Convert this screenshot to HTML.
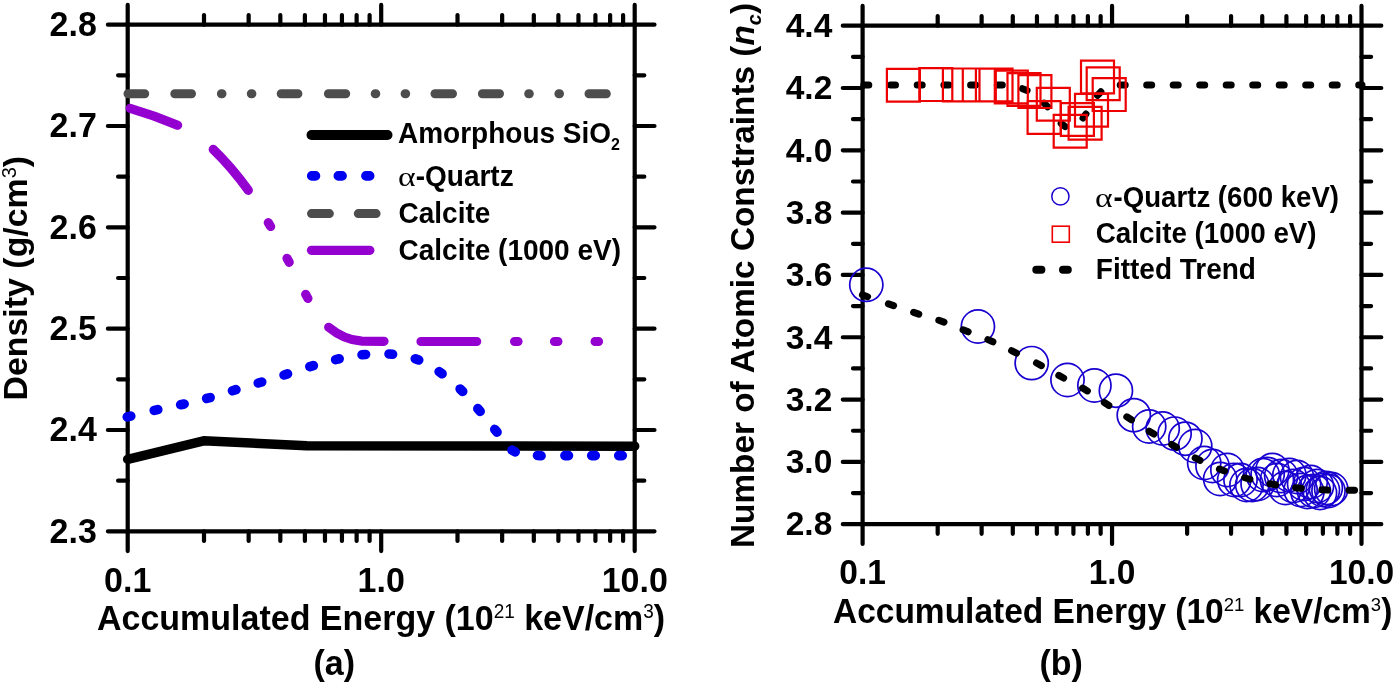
<!DOCTYPE html><html><head><meta charset="utf-8"><style>html,body{margin:0;padding:0;background:#fff;width:1395px;height:684px;overflow:hidden}svg{display:block;will-change:transform}text{font-family:"Liberation Sans", sans-serif;font-weight:bold}</style></head><body>
<svg width="1395" height="684" viewBox="0 0 1395 684">
<path d="M127.7,531.3H634.7V24.7H127.7Z" fill="none" stroke="#000" stroke-width="4.2" stroke-linejoin="miter"/>
<path d="M127.70,531.3v19.8M127.70,24.7v-19.8M204.01,531.3v9.6M204.01,24.7v-9.6M248.65,531.3v9.6M248.65,24.7v-9.6M280.32,531.3v9.6M280.32,24.7v-9.6M304.89,531.3v9.6M304.89,24.7v-9.6M324.96,531.3v9.6M324.96,24.7v-9.6M341.93,531.3v9.6M341.93,24.7v-9.6M356.63,531.3v9.6M356.63,24.7v-9.6M369.60,531.3v9.6M369.60,24.7v-9.6M381.20,531.3v19.8M381.20,24.7v-19.8M457.51,531.3v9.6M457.51,24.7v-9.6M502.15,531.3v9.6M502.15,24.7v-9.6M533.82,531.3v9.6M533.82,24.7v-9.6M558.39,531.3v9.6M558.39,24.7v-9.6M578.46,531.3v9.6M578.46,24.7v-9.6M595.43,531.3v9.6M595.43,24.7v-9.6M610.13,531.3v9.6M610.13,24.7v-9.6M623.10,531.3v9.6M623.10,24.7v-9.6M634.70,531.3v19.8M634.70,24.7v-19.8M127.7,531.30h-19.8M634.7,531.30h19.8M127.7,429.98h-19.8M634.7,429.98h19.8M127.7,328.66h-19.8M634.7,328.66h19.8M127.7,227.34h-19.8M634.7,227.34h19.8M127.7,126.02h-19.8M634.7,126.02h19.8M127.7,24.70h-19.8M634.7,24.70h19.8M127.7,480.64h-9.6M634.7,480.64h9.6M127.7,379.32h-9.6M634.7,379.32h9.6M127.7,278.00h-9.6M634.7,278.00h9.6M127.7,176.68h-9.6M634.7,176.68h9.6M127.7,75.36h-9.6M634.7,75.36h9.6" fill="none" stroke="#000" stroke-width="4.2" stroke-linecap="round"/>
<text transform="translate(96.8,542.7) scale(1,1.04)" font-size="34" text-anchor="end">2.3</text>
<text transform="translate(96.8,441.4) scale(1,1.04)" font-size="34" text-anchor="end">2.4</text>
<text transform="translate(96.8,340.1) scale(1,1.04)" font-size="34" text-anchor="end">2.5</text>
<text transform="translate(96.8,238.7) scale(1,1.04)" font-size="34" text-anchor="end">2.6</text>
<text transform="translate(96.8,137.4) scale(1,1.04)" font-size="34" text-anchor="end">2.7</text>
<text transform="translate(96.8,36.1) scale(1,1.04)" font-size="34" text-anchor="end">2.8</text>
<text transform="translate(127.7,592) scale(1,1.04)" font-size="34" text-anchor="middle">0.1</text>
<text transform="translate(381.2,592) scale(1,1.04)" font-size="34" text-anchor="middle">1.0</text>
<text transform="translate(634.7,592) scale(1,1.04)" font-size="34" text-anchor="middle">10.0</text>
<text transform="translate(97,630.2) scale(1,1.04)" font-size="34">Accumulated Energy (10<tspan font-size="19" font-weight="normal" dy="-11.5">21</tspan><tspan dy="11.5"> keV/cm</tspan><tspan font-size="19" font-weight="normal" dy="-11.5">3</tspan><tspan dy="11.5">)</tspan></text>
<text transform="translate(313.5,674.5) scale(1,1.03)" font-size="34">(a)</text>
<text transform="translate(27.3,400.5) rotate(-90) scale(1,1.0)" font-size="33.9">Density (g/cm<tspan font-size="20" font-weight="normal" dy="-11">3</tspan><tspan dy="11">)</tspan></text>
<path d="M311.5,135H387.5" stroke="#000" stroke-width="10" stroke-linecap="round"/>
<path d="M311.7,175.9h3.8M338.3,175.9h3.8M365.9,175.9h3.8" stroke="#0000f0" stroke-width="9.6" stroke-linecap="round"/>
<path d="M311.5,213.6H329.4M358.3,213.6H376.1" stroke="#4d4d4d" stroke-width="9" stroke-linecap="round"/>
<path d="M311.5,250.3H369.8" stroke="#9400d0" stroke-width="9.3" stroke-linecap="round"/>
<text transform="translate(398,143) scale(1,1.06)" font-size="28">Amorphous SiO<tspan font-size="16" dy="7">2</tspan></text>
<text transform="translate(397.9,185.8) scale(1.2,1.0)" font-size="28" style="font-family:&quot;Liberation Serif&quot;, serif;font-weight:normal">α</text>
<text transform="translate(415.7,185.6) scale(1,1.06)" font-size="28">-Quartz</text>
<text transform="translate(398.5,223) scale(1,1.06)" font-size="28">Calcite</text>
<text transform="translate(398.5,260) scale(1,1.06)" font-size="28">Calcite (1000 eV)</text>
<path d="M862.6,524.2H1361.5V25.7H862.6Z" fill="none" stroke="#000" stroke-width="4.2" stroke-linejoin="miter"/>
<path d="M862.60,524.2v19.8M862.60,25.7v-19.8M937.69,524.2v9.6M937.69,25.7v-9.6M981.62,524.2v9.6M981.62,25.7v-9.6M1012.78,524.2v9.6M1012.78,25.7v-9.6M1036.96,524.2v9.6M1036.96,25.7v-9.6M1056.71,524.2v9.6M1056.71,25.7v-9.6M1073.41,524.2v9.6M1073.41,25.7v-9.6M1087.88,524.2v9.6M1087.88,25.7v-9.6M1100.64,524.2v9.6M1100.64,25.7v-9.6M1112.05,524.2v19.8M1112.05,25.7v-19.8M1187.14,524.2v9.6M1187.14,25.7v-9.6M1231.07,524.2v9.6M1231.07,25.7v-9.6M1262.23,524.2v9.6M1262.23,25.7v-9.6M1286.41,524.2v9.6M1286.41,25.7v-9.6M1306.16,524.2v9.6M1306.16,25.7v-9.6M1322.86,524.2v9.6M1322.86,25.7v-9.6M1337.33,524.2v9.6M1337.33,25.7v-9.6M1350.09,524.2v9.6M1350.09,25.7v-9.6M1361.50,524.2v19.8M1361.50,25.7v-19.8M862.6,524.20h-19.8M1361.5,524.20h19.8M862.6,461.89h-19.8M1361.5,461.89h19.8M862.6,399.57h-19.8M1361.5,399.57h19.8M862.6,337.26h-19.8M1361.5,337.26h19.8M862.6,274.95h-19.8M1361.5,274.95h19.8M862.6,212.64h-19.8M1361.5,212.64h19.8M862.6,150.33h-19.8M1361.5,150.33h19.8M862.6,88.01h-19.8M1361.5,88.01h19.8M862.6,25.70h-19.8M1361.5,25.70h19.8M862.6,493.04h-9.6M1361.5,493.04h9.6M862.6,430.73h-9.6M1361.5,430.73h9.6M862.6,368.42h-9.6M1361.5,368.42h9.6M862.6,306.11h-9.6M1361.5,306.11h9.6M862.6,243.79h-9.6M1361.5,243.79h9.6M862.6,181.48h-9.6M1361.5,181.48h9.6M862.6,119.17h-9.6M1361.5,119.17h9.6M862.6,56.86h-9.6M1361.5,56.86h9.6" fill="none" stroke="#000" stroke-width="4.2" stroke-linecap="round"/>
<text transform="translate(832.3,535.4) scale(1,1.0)" font-size="33.5" text-anchor="end">2.8</text>
<text transform="translate(832.3,473.1) scale(1,1.0)" font-size="33.5" text-anchor="end">3.0</text>
<text transform="translate(832.3,410.8) scale(1,1.0)" font-size="33.5" text-anchor="end">3.2</text>
<text transform="translate(832.3,348.5) scale(1,1.0)" font-size="33.5" text-anchor="end">3.4</text>
<text transform="translate(832.3,286.2) scale(1,1.0)" font-size="33.5" text-anchor="end">3.6</text>
<text transform="translate(832.3,223.8) scale(1,1.0)" font-size="33.5" text-anchor="end">3.8</text>
<text transform="translate(832.3,161.5) scale(1,1.0)" font-size="33.5" text-anchor="end">4.0</text>
<text transform="translate(832.3,99.2) scale(1,1.0)" font-size="33.5" text-anchor="end">4.2</text>
<text transform="translate(832.3,36.9) scale(1,1.0)" font-size="33.5" text-anchor="end">4.4</text>
<text transform="translate(862.6,584) scale(1,1.04)" font-size="33.5" text-anchor="middle">0.1</text>
<text transform="translate(1112.0,584) scale(1,1.04)" font-size="33.5" text-anchor="middle">1.0</text>
<text transform="translate(1361.5,584) scale(1,1.04)" font-size="33.5" text-anchor="middle">10.0</text>
<text transform="translate(833,622.5) scale(1,1.04)" font-size="33.5">Accumulated Energy (10<tspan font-size="18.5" font-weight="normal" dy="-11">21</tspan><tspan dy="11"> keV/cm</tspan><tspan font-size="18.5" font-weight="normal" dy="-11">3</tspan><tspan dy="11">)</tspan></text>
<text transform="translate(1039.5,674.5) scale(1,1.03)" font-size="34">(b)</text>
<text transform="translate(754,548) rotate(-90) scale(1,1.0)" font-size="33.35">Number of Atomic Constraints (<tspan font-style="italic">n</tspan><tspan font-style="italic" font-size="20" dy="7">c</tspan><tspan dy="-7">)</tspan></text>
<path d="M127.7,459.3L203.6,440.8L306.7,445.8L634.7,446.2" fill="none" stroke="#000" stroke-width="9.5" stroke-linejoin="round" stroke-linecap="round"/>
<path d="M127.25,416.92L130.75,416.08M154.24,410.40L157.76,409.60M180.65,404.80L184.15,404.00M206.66,398.48L210.14,397.52M232.48,390.72L235.92,389.68M258.28,383.03L261.72,381.97M284.08,374.95L287.52,373.85M309.87,366.61L313.33,365.59M335.64,359.59L339.16,358.81M362.01,354.77L365.59,354.43M389.01,353.94L392.59,354.26M415.31,358.77L418.69,360.03M439.12,371.67L442.08,373.73M460.11,388.95L462.69,391.45M477.83,408.63L480.17,411.37M494.74,429.42L497.06,432.18M512.04,450.11L515.16,451.89M537.51,455.44L541.09,455.76M564.90,455.60L568.50,455.60M591.70,455.60L595.30,455.60M618.70,455.60L622.30,455.60" fill="none" stroke="#0000f0" stroke-width="9.6" stroke-linecap="round"/>
<path d="M130.2,108.3Q155,115.5 177.6,125.2M213.2,149.4Q231.5,167 248.3,190.3M268.3,222.6L270.6,226.5M287,258.3L289.2,262.3M305.7,294.4L307.9,298.4M328.7,327.3C338,335 348,340.5 362,341.2L384,341.3M421,341.5H476.7M514.6,341.5H518M554.5,341.5H557.9M595.1,341.5H598.5" fill="none" stroke="#9400d0" stroke-width="9.2" stroke-linecap="round"/>
<path d="M128.0,93.8H144.7M174.8,93.8H191.5M221.4,93.8H222.0M251.3,93.8H251.9M281.2,93.8H297.9M328.4,93.8H345.7M375.2,93.8H375.8M405.1,93.8H405.7M435.0,93.8H452.5M482.4,93.8H499.5M528.7,93.8H529.3M558.9,93.8H559.5M589.0,93.8H606.3" fill="none" stroke="#4d4d4d" stroke-width="9" stroke-linecap="round"/>
<path d="M863.80,85H868.80M890.50,85H895.50M917.20,85H922.20M943.90,85H948.90M970.60,85H975.60M997.30,85H1002.30M1022.48,88.68L1027.12,90.52M1044.03,103.13L1047.57,106.67M1061.16,123.43L1065.04,126.57M1083.04,118.03L1085.96,113.97M1097.51,95.44L1100.89,91.76M1120.20,85H1125.20M1146.70,85H1151.70M1173.20,85H1178.20M1199.70,85H1204.70M1226.20,85H1231.20M1252.70,85H1257.70M1279.20,85H1284.20M1305.70,85H1310.70M1332.20,85H1337.20M1358.70,85H1362.00" fill="none" stroke="#000" stroke-width="7" stroke-linecap="round"/>
<path d="M886.9,68.8h33v32.8h-33ZM919.3,68.2h33v32.8h-33ZM942.9,68.5h33v32.8h-33ZM962.8,68.5h33v32.8h-33ZM979.5,68.6h33v32.8h-33ZM994.8,70.6h33v32.8h-33ZM1007.5,73.1h33v32.8h-33ZM1018.4,75.2h33v32.8h-33ZM1027.6,101.1h33v32.8h-33ZM1036.8,87.9h33v32.8h-33ZM1053.7,114.8h33v32.8h-33ZM1060.9,103.1h33v32.8h-33ZM1068.6,106.8h33v32.8h-33ZM1075.0,93.9h33v32.8h-33ZM1081.0,60.6h33v32.8h-33ZM1086.7,67.4h33v32.8h-33ZM1092.7,78.2h33v32.8h-33Z" fill="none" stroke="#ee0000" stroke-width="2.2"/>
<g fill="none" stroke="#1800d0" stroke-width="1.7"><circle cx="866.3" cy="284.8" r="16.6"/><circle cx="977.9" cy="326.5" r="16.6"/><circle cx="1031.7" cy="363.1" r="16.6"/><circle cx="1067.5" cy="380.0" r="16.6"/><circle cx="1094.4" cy="385.5" r="16.6"/><circle cx="1115.9" cy="390.7" r="16.6"/><circle cx="1133.8" cy="415.2" r="16.6"/><circle cx="1149.2" cy="426.5" r="16.6"/><circle cx="1162.7" cy="428.5" r="16.6"/><circle cx="1174.6" cy="433.6" r="16.6"/><circle cx="1185.4" cy="438.7" r="16.6"/><circle cx="1195.2" cy="446.0" r="16.6"/><circle cx="1204.2" cy="463.0" r="16.6"/><circle cx="1212.5" cy="466.0" r="16.6"/><circle cx="1220.2" cy="479.0" r="16.6"/><circle cx="1227.4" cy="470.0" r="16.6"/><circle cx="1234.2" cy="480.0" r="16.6"/><circle cx="1240.5" cy="480.0" r="16.6"/><circle cx="1246.5" cy="485.0" r="16.6"/><circle cx="1252.2" cy="485.0" r="16.6"/><circle cx="1257.6" cy="484.0" r="16.6"/><circle cx="1262.8" cy="475.0" r="16.6"/><circle cx="1267.7" cy="474.0" r="16.6"/><circle cx="1272.4" cy="470.0" r="16.6"/><circle cx="1276.9" cy="480.0" r="16.6"/><circle cx="1281.2" cy="476.0" r="16.6"/><circle cx="1285.4" cy="488.0" r="16.6"/><circle cx="1289.4" cy="475.0" r="16.6"/><circle cx="1293.2" cy="486.0" r="16.6"/><circle cx="1297.0" cy="477.0" r="16.6"/><circle cx="1300.6" cy="490.0" r="16.6"/><circle cx="1304.1" cy="484.0" r="16.6"/><circle cx="1307.4" cy="492.0" r="16.6"/><circle cx="1310.7" cy="482.0" r="16.6"/><circle cx="1313.9" cy="491.0" r="16.6"/><circle cx="1317.0" cy="486.0" r="16.6"/><circle cx="1320.0" cy="493.0" r="16.6"/><circle cx="1322.9" cy="490.0" r="16.6"/><circle cx="1325.8" cy="488.0" r="16.6"/><circle cx="1328.5" cy="491.0" r="16.6"/><circle cx="1331.2" cy="489.0" r="16.6"/></g>
<path d="M862.40,294.91L867.60,296.69M888.40,303.82L893.60,305.58M913.59,312.34L918.81,314.06M938.81,320.28L943.99,322.12M963.04,329.78L968.16,331.82M987.88,339.60L992.92,341.80M1011.53,350.70L1016.47,353.10M1036.47,363.02L1041.33,365.58M1058.79,375.38L1063.61,378.02M1082.64,388.08L1087.36,390.92M1104.30,402.50L1108.90,405.50M1126.78,416.82L1131.42,419.78M1149.26,431.16L1153.94,434.04M1171.72,444.52L1176.48,447.28M1195.14,457.96L1200.06,460.44M1219.44,469.00L1224.56,471.00M1244.65,477.75L1249.95,479.25M1270.10,483.80L1275.50,484.80M1295.67,487.70L1301.13,488.30M1321.95,489.79L1327.45,490.01M1349.05,490.17L1354.55,490.23" fill="none" stroke="#000" stroke-width="7" stroke-linecap="round"/>
<circle cx="1060.4" cy="196.4" r="8.6" fill="none" stroke="#1800d0" stroke-width="1.5"/>
<rect x="1052.3" y="226.2" width="17" height="16" fill="none" stroke="#ee0000" stroke-width="1.6"/>
<path d="M1036.3,269.7H1041.4M1063,269.7H1067.8" stroke="#000" stroke-width="8" stroke-linecap="round"/>
<text transform="translate(1095,207.2) scale(1.2,1.0)" font-size="28" style="font-family:&quot;Liberation Serif&quot;, serif;font-weight:normal">α</text>
<text transform="translate(1113.6,207.2) scale(1,1.06)" font-size="27.6">-Quartz (600 keV)</text>
<text transform="translate(1095.8,243.2) scale(1,1.06)" font-size="27.8">Calcite (1000 eV)</text>
<text transform="translate(1095.8,279.2) scale(1,1.06)" font-size="28">Fitted Trend</text>
</svg></body></html>
